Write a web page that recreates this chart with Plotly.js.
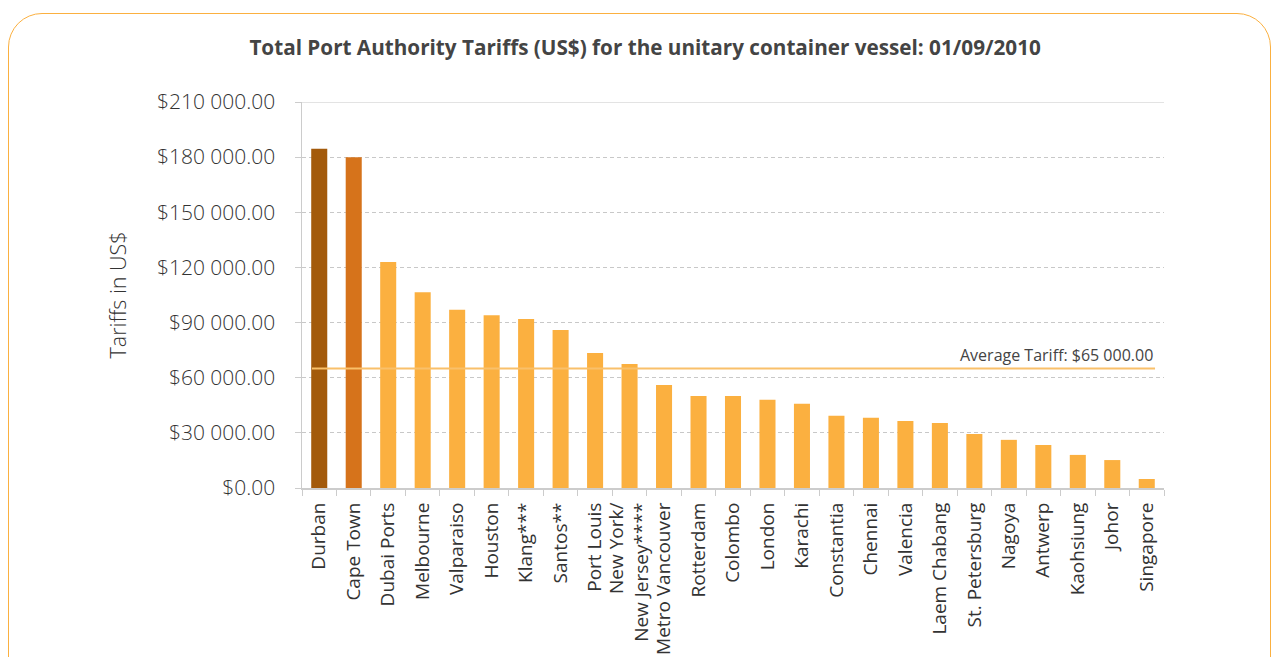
<!DOCTYPE html>
<html>
<head>
<meta charset="utf-8">
<script src="https://cdn.plot.ly/plotly-3.0.1.min.js"></script>
<style>
  html, body { margin: 0; padding: 0; background: #fff; overflow: hidden; }
  #frame { position: absolute; left: 8px; top: 13px; width: 1263px; height: 680px;
           border: 1px solid #FBB040; border-radius: 34px; box-sizing: border-box; }
  #chart { position: absolute; left: 0; top: 0; width: 1280px; height: 657px; }
</style>
</head>
<body>
<div id="frame"></div>
<div id="chart"></div>
<script>
const ports = ["Durban", "Cape Town", "Dubai Ports", "Melbourne", "Valparaiso", "Houston",
  "Klang***", "Santos**", "Port Louis", "New York/<br>New Jersey****", "Metro Vancouver",
  "Rotterdam", "Colombo", "London", "Karachi", "Constantia", "Chennai", "Valencia",
  "Laem Chabang", "St. Petersburg", "Nagoya", "Antwerp", "Kaohsiung", "Johor", "Singapore"];
const tariffs = [184500, 180000, 123000, 106500, 97000, 94000, 92000, 86000, 73500, 67500,
  56000, 50000, 50000, 48000, 45800, 39300, 38200, 36500, 35400, 29400, 26200, 23400,
  18000, 15200, 4900];
const barColors = ["#A35A0B", "#D6731B"].concat(Array(23).fill("#FBB040"));
const averageTariff = 65000;
const averageLabel = "Average Tariff: $65 000.00";
const yTickVals = [0, 30000, 60000, 90000, 120000, 150000, 180000, 210000];
const yTickText = ["$0.00", "$30 000.00", "$60 000.00", "$90 000.00", "$120 000.00",
  "$150 000.00", "$180 000.00", "$210 000.00"];

const font = "Open Sans, Liberation Sans, sans-serif";

const data = [{
  type: "bar",
  x: ports,
  y: tariffs,
  marker: { color: barColors },
  hoverinfo: "x+y"
}];

const layout = {
  width: 1280, height: 657,
  margin: { l: 302, r: 116, t: 102, b: 169 },
  paper_bgcolor: "rgba(0,0,0,0)",
  plot_bgcolor: "rgba(0,0,0,0)",
  showlegend: false,
  bargap: 0.535,
  font: { family: font, color: "#333" },
  title: {
    text: "<b>Total Port Authority Tariffs (US$) for the unitary container vessel: 01/09/2010</b>",
    font: { family: font, size: 20.7, color: "#444" },
    x: 0.504, xanchor: "center", y: 0.928, yanchor: "middle"
  },
  xaxis: {
    type: "category",
    tickangle: -90,
    tickfont: { family: font, size: 19, color: "#333" },
    showline: true, linecolor: "#cccccc", linewidth: 2,
    ticks: "outside", tickson: "boundaries", ticklen: 6, tickcolor: "#cccccc",
    ticklabelstandoff: 5,
    showgrid: false, zeroline: false, fixedrange: true
  },
  yaxis: {
    range: [0, 210000],
    tickvals: yTickVals, ticktext: yTickText,
    tickfont: { family: font, size: 21, color: "#333", weight: 300 },
    showline: true, linecolor: "#cccccc", linewidth: 1.5,
    ticks: "outside", ticklen: 6, tickcolor: "#cccccc",
    ticklabelstandoff: 15,
    showgrid: true, gridcolor: "#c8c8c8", griddash: "4px,3px", gridwidth: 1,
    zeroline: false, fixedrange: true,
    title: { text: "Tariffs in US$", font: { family: font, size: 21.5, color: "#333", weight: 300 }, standoff: 24 }
  },
  shapes: [
    { type: "line", xref: "paper", yref: "y", x0: 0, x1: 1, y0: 210000, y1: 210000,
      line: { color: "#c8c8c8", width: 1.2 } },
    { type: "line", xref: "paper", yref: "y", x0: 0.0116, x1: 0.9896, y0: averageTariff, y1: averageTariff,
      line: { color: "#F9C06A", width: 2 } }
  ],
  annotations: [
    { xref: "paper", yref: "y", x: 0.9896, y: averageTariff, xanchor: "right", yanchor: "bottom",
      yshift: 1, text: averageLabel, showarrow: false,
      font: { family: font, size: 16, color: "#444" } }
  ]
};

Plotly.newPlot("chart", data, layout, { displayModeBar: false, staticPlot: true });
</script>
</body>
</html>
